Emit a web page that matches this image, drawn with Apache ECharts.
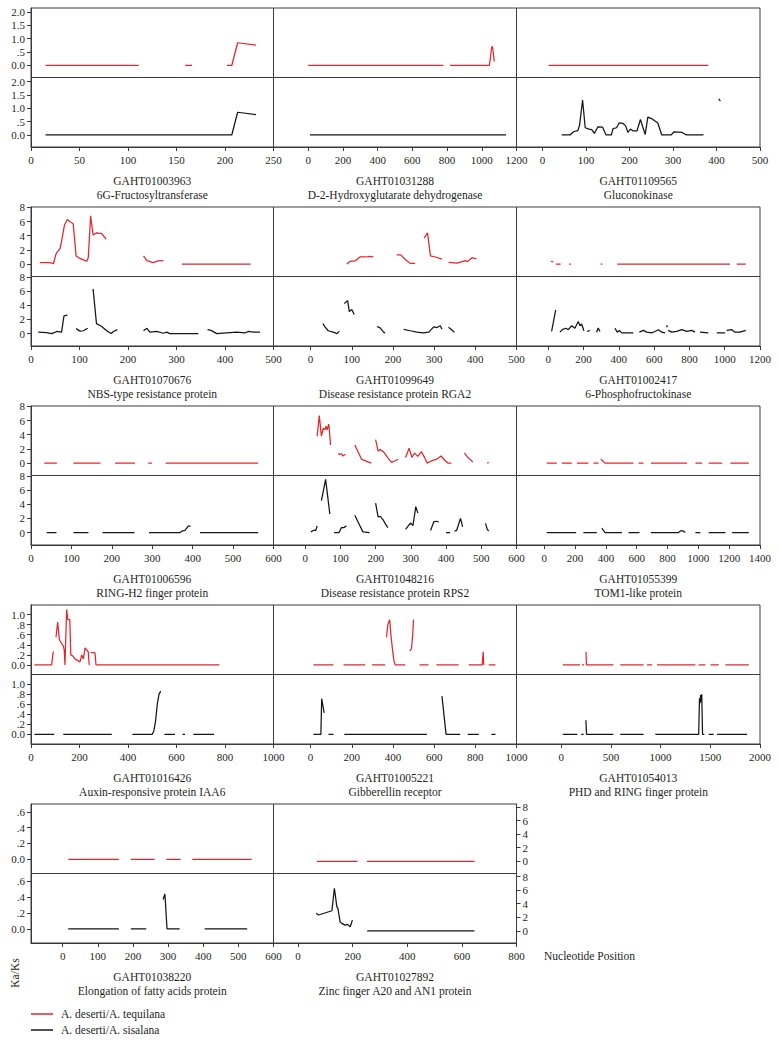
<!DOCTYPE html>
<html><head><meta charset="utf-8">
<script src="https://cdn.jsdelivr.net/npm/echarts@6/dist/echarts.min.js"></script>
<style>html,body{margin:0;padding:0;background:#fff}#c{width:779px;height:1045px}</style>
</head><body><div id="c"></div>
<script>
const N = null;
// ---------- titles ----------
const geneIds = ['GAHT01003963','GAHT01031288','GAHT01109565','GAHT01070676','GAHT01099649','GAHT01002417','GAHT01006596','GAHT01048216','GAHT01055399','GAHT01016426','GAHT01005221','GAHT01054013','GAHT01038220','GAHT01027892'];
const geneNames = ['6G-Fructosyltransferase','D-2-Hydroxyglutarate dehydrogenase','Gluconokinase','NBS-type resistance protein','Disease resistance protein RGA2','6-Phosphofructokinase','RING-H2 finger protein','Disease resistance protein RPS2','TOM1-like protein','Auxin-responsive protein IAA6','Gibberellin receptor','PHD and RING finger protein','Elongation of fatty acids protein','Zinc finger A20 and AN1 protein'];
const seriesNames = ['A. deserti/A. tequilana','A. deserti/A. sisalana'];

// ---------- tick labels ----------
const xTicks = [
  [0,50,100,150,200,250],[0,200,400,600,800,1000,1200],[0,100,200,300,400,500],
  [0,100,200,300,400,500],[0,100,200,300,400,500],[0,200,400,600,800,1000,1200],
  [0,100,200,300,400,500,600],[0,100,200,300,400,500,600],[0,200,400,600,800,1000,1200,1400],
  [0,200,400,600,800,1000],[0,200,400,600,800,1000],[0,500,1000,1500,2000],
  [0,100,200,300,400,500,600],[0,200,400,600,800]
];
const yTicksByRow = [[0,0.5,1,1.5,2],[0,2,4,6,8],[0,2,4,6,8],[0,0.2,0.4,0.6,0.8,1],[0,0.2,0.4,0.6]];
const yTicksRight = [0,2,4,6,8];

// ---------- series values: [nucleotide position, Ka/Ks], null = gap ----------
const fructTeq = [[15,0],[111,0],N,[159,0],[166,0],N,[202,0],[207,0],[213,0.85],[232,0.76]];
const fructSis = [[15,0],[207,0],[213,0.85],[232,0.76]];
const d2hgTeq = [[0,0],[778,0],N,[817,0],[1043,0],[1050,0.3],[1056,0.65],[1061,0.72],[1066,0.5],[1072,0.15]];
const d2hgSis = [[10,0],[1140,0]];
const glucoTeq = [[14,0],[381,0]];
const glucoSis = [[44,0],[63,0],[71,0.12],[81,0.16],[85,0.36],[92,1.31],[98,0.27],[107,0.22],[113,0.2],[119,0.06],[127,0.3],[138,0.29],[146,0],[158,0],[162,0.24],[170,0.27],[176,0.45],[185,0.43],[191,0.34],[196,0.1],[202,0.22],[208,0.15],[217,0.15],[225,0.58],[231,0.27],[236,0.02],[242,0.67],[252,0.6],[265,0.45],[274,0],[296,0],[302,0.12],[320,0.1],[331,0],[370,0],N,[405,1.35],[409,1.27]];
const nbsTeq = [[18,0.2],[39,0.2],[46,0.05],[52,1.5],[60,2.2],[63,3.2],[69,5.5],[75,6.3],[80,6.0],[87,5.7],[93,1.15],[101,0.8],[108,0.6],[115,0.4],[118,0.9],[123,6.8],[128,4.1],[135,4.4],[146,4.3],[155,3.5],N,[232,1.15],[239,0.5],[252,0.2],[262,0.45],[273,0.5],N,[311,0],[453,0]];
const nbsSis = [[15,0.2],[32,0.15],[43,0],[53,0.3],[63,0.2],[68,2.5],[75,2.6],N,[93,0.7],[101,0.35],[108,0.4],[117,0.75],N,[128,6.3],[135,1.4],[146,1.0],[156,0.4],[165,0],[170,0.3],[178,0.55],N,[232,0.4],[239,0.75],[245,0.2],[259,0.3],[273,0.05],[280,0.2],[286,0],[345,0],N,[364,0.55],[371,0.45],[383,0],[403,0.1],[424,0.2],[441,0.1],[448,0.3],[458,0.2],[472,0.2]];
const rga2Teq = [[88,0],[96,0.4],[108,0.45],[120,1.0],[133,1.0],[145,1.1],[153,1.0],N,[209,1.3],[219,1.3],[230,0.65],[242,0.1],[254,0.1],N,[276,3.7],[284,4.4],[291,1.15],[303,1.0],[319,0.7],N,[335,0.25],[356,0.15],[368,0.35],[376,0.5],[381,0.35],[392,0.9],[403,0.75]];
const rga2Sis = [[30,1.4],[35,0.95],[43,0.4],[55,0.2],[64,0],[70,0.35],N,[82,4.25],[90,4.65],[94,3.1],[100,3.4],[106,2.7],N,[161,1.0],[169,0.8],[177,0.2],[181,0.1],N,[226,0.6],[242,0.4],[258,0.2],[274,0.1],[287,0.2],[299,0.95],[307,0.85],[315,1.1],[319,0.6],N,[335,0.9],[341,0.6],[349,0.2]];
const pfkTeq = [[14,0.4],[28,0.3],N,[44,0],[70,0],N,[118,0],[128,0],N,[297,0],[307,0],N,[391,0],[1030,0],N,[1068,0],[1119,0]];
const pfkSis = [[19,0.3],[42,3.3],N,[66,0.2],[82,0.6],[100,0.75],[113,0.55],[133,1.1],[151,0.75],[170,1.7],[180,1.1],[189,1.35],[202,0.4],N,[221,0.3],[236,0.45],N,[274,0.2],[283,0.8],[293,0.3],N,[378,0.75],[391,0.2],[403,0.45],[416,0.1],[482,0.1],N,[516,0.2],[539,0.45],[558,0.2],[586,0.1],[605,0.3],[624,0.55],[643,0.2],[662,0.1],N,[671,1.2],[675,0.9],N,[680,0.45],[700,0.2],[728,0.3],[756,0.55],[785,0.3],[813,0.45],[832,0.2],N,[860,0.2],[907,0.1],N,[955,0.1],[1002,0.1],N,[1011,0.45],[1040,0.55],[1058,0.2],[1087,0.2],[1119,0.45]];
const ringTeq = [[33,0],[64,0],N,[105,0],[172,0],N,[208,0],[257,0],N,[290,0],[299,0],N,[333,0],[562,0]];
const ringSis = [[39,0],[63,0],N,[105,0],[142,0],N,[177,0],[256,0],N,[292,0],[369,0],[375,0.25],[381,0.3],[389,0.9],[395,0.9],N,[418,0],[562,0]];
const rps2Teq = [[34,3.8],[40,6.7],[46,3.8],[51,4.9],[56,4.7],[59,5.2],[62,4.7],[67,5.5],[72,2.55],N,[93,1.25],[103,1.3],[107,1.0],[114,1.25],N,[141,2.55],[150,1.6],[160,0.55],[174,0.25],[188,0],N,[200,3.3],[207,1.7],[213,1.9],[222,1.6],[236,0.65],[245,0.1],[254,0.3],[264,0.55],N,[285,0.8],[295,2.1],[303,0.8],[311,1.4],[320,0.95],[330,1.6],[339,0.8],[346,0],[358,0.3],[373,0.55],[386,1.0],[396,0.4],[405,0],[415,0],N,[452,1.4],[462,0.8],[476,0.15],N,[517,0],[521,0.1]];
const rps2Sis = [[16,0.1],[23,0.3],[30,0.3],[34,0.95],N,[46,4.5],[58,7.5],[70,2.6],N,[82,0],[96,0],[103,0.7],[110,0.7],[117,0.95],N,[141,2.45],[150,1.5],[164,0.1],[183,0],N,[200,4.15],[207,2.2],[213,2.3],[222,1.75],[228,1.2],[235,0.7],N,[285,0.45],[292,0.9],[299,1.35],[306,1.0],[314,3.65],[320,2.75],N,[356,0.3],[365,1.5],[372,1.6],[379,1.5],N,[400,0],[411,0],N,[424,0.2],[430,0.3],[441,2.0],[447,0.8],N,[512,1.3],[517,0.45],[521,0.2]];
const tomTeq = [[16,0],[81,0],N,[114,0],[179,0],N,[211,0],[287,0],N,[319,0],[352,0],N,[367,0.55],[380,0.3],[395,0],[579,0],N,[612,0],[644,0],N,[692,0],[926,0],N,[981,0],[1024,0],N,[1067,0],[1154,0],N,[1208,0],[1327,0]];
const tomSis = [[16,0],[207,0],N,[254,0],[341,0],N,[374,0.65],[384,0.3],[395,0],[504,0],N,[547,0],[618,0],N,[692,0],[872,0],[883,0.25],[900,0.25],[915,0],N,[981,0],[1013,0],N,[1067,0],[1176,0],N,[1219,0],[1327,0]];
const iaaTeq = [[14,0],[85,0],[92,0.27],N,[103,0.55],[110,0.85],[117,0.5],[127,0.42],[133,0.38],[137,0.3],[140,0],[147,1.1],[152,0.9],[160,0.9],[164,0.2],[172,0.18],[181,0.12],[195,0.08],[202,0.06],[209,0.2],[216,0.12],[223,0.34],[230,0.3],[236,0.26],[240,0],N,[246,0.25],[264,0.24],[268,0],[777,0]];
const iaaSis = [[14,0],[96,0],N,[133,0],[333,0],N,[418,0],[500,0],[507,0.08],[514,0.28],[521,0.61],[528,0.8],[535,0.86],N,[550,0],[594,0],N,[625,0],[635,0],N,[669,0],[755,0]];
const gibTeq = [[14,0],[111,0],N,[160,0],[265,0],N,[298,0],[362,0],N,[369,0.55],[375,0.8],[384,0.9],[390,0.6],[398,0.3],[405,0.08],[411,0],[460,0],N,[481,0.28],[490,0.32],[496,0.6],[500,0.9],N,[529,0],[573,0],N,[611,0],[719,0],N,[768,0],[833,0],[838,0.26],[841,0],N,[865,0],[898,0]];
const gibSis = [[14,0],[50,0],[54,0.71],[66,0.43],N,[87,0],[111,0],N,[164,0],[565,0],N,[638,0.76],[658,0],[727,0],N,[763,0],[817,0],N,[878,0],[898,0]];
const phdTeq = [[16,0],[190,0],N,[210,0],[231,0],N,[249,0.26],[254,0],[526,0],N,[594,0],[829,0],N,[863,0],[913,0],N,[964,0],[1350,0],N,[1383,0],[1451,0],N,[1501,0],[1585,0],N,[1652,0],[1887,0]];
const phdSis = [[16,0],[162,0],N,[200,0],[225,0],N,[248,0.28],[255,0],[524,0],N,[594,0],[829,0],N,[947,0],[1383,0],[1391,0.72],[1397,0.62],[1402,0.78],[1408,0.65],[1414,0.8],[1422,0],[1440,0],N,[1484,0],[1534,0],N,[1568,0],[1870,0]];
const elongTeq = [[16,0],[160,0],N,[194,0],[262,0],N,[295,0],[336,0],N,[369,0],[538,0]];
const elongSis = [[16,0],[160,0],N,[194,0],[238,0],N,[286,0.37],[291,0.44],[297,0],[333,0],N,[404,0],[525,0]];
const zincTeq = [[69,0],[218,0],N,[252,0],[647,0]];
const zincSis = [[66,2.58],[75,2.33],[124,2.96],[133,6.28],[142,3.56],[146,3.3],[154,1.33],[160,1.1],[172,0.84],[181,0.95],[191,0.6],[199,1.58],N,[253,0],[646,0]];

const teqData = [fructTeq,d2hgTeq,glucoTeq,nbsTeq,rga2Teq,pfkTeq,ringTeq,rps2Teq,tomTeq,iaaTeq,gibTeq,phdTeq,elongTeq,zincTeq];
const sisData = [fructSis,d2hgSis,glucoSis,nbsSis,rga2Sis,pfkSis,ringSis,rps2Sis,tomSis,iaaSis,gibSis,phdSis,elongSis,zincSis];

// ---------- scale / layout config ----------
const xRange = [[0,250],[-200,1200],[-60,500],[0,500],[-90,500],[-180,1200],[0,600],[-90,600],[-180,1400],[0,1000],[-180,1000],[-450,2000],[-90,600],[-90,800]];
const yRangeByRow = [[-0.45,2.15],[-1.75,8.05],[-1.75,8.05],[-0.19,1.19],[-0.18,0.70]];
const yRangeRight = [-1.8,8.45];
const intRows = [false,true,true,false,false];

const FONT = 'Liberation Serif, DejaVu Serif, serif';
const RED = '#e3262b', BLK = '#151515', INK = '#231f20', AX = '#3a3a3a';
const EDGES = [31, 273.5, 516.5, 760];
const ROW_TOP = [8, 207, 406, 605, 804];
const HALF = 69.5;

function toLine(arr){ return arr.map(p => p ? p : ['-','-']); }
function fmtDec(v){ let s = v.toFixed(1); if (v > 0 && v < 1) s = s.slice(1); return s; }

function makeY(gi, yr, ticks, pos, show, isInt){
  return {type:'value', gridIndex:gi, min:yr[0], max:yr[1], position:pos, show:show,
    axisLine:{show:true, onZero:false, lineStyle:{color:AX,width:1}},
    axisTick:{show:true, inside:false, length:4, lineStyle:{color:AX}, customValues:ticks},
    axisLabel:{show:true, customValues:ticks, showMinLabel:true, showMaxLabel:true, hideOverlap:false,
      margin:6, fontSize:11, fontFamily:FONT, color:INK,
      formatter: v => isInt ? String(Math.round(v)) : fmtDec(v)},
    splitLine:{show:false}};
}

const grid=[], xAxis=[], yAxis=[], series=[], graphic=[];
teqData.forEach((teq,i)=>{
  const row = Math.floor(i/3), col = i%3;
  const left = EDGES[col], width = EDGES[col+1]-EDGES[col];
  const rightAxis = (row===4 && col===1);
  for (let h=0; h<2; h++){
    const gi = grid.length;
    grid.push({left:left, top:ROW_TOP[row]+h*HALF, width:width, height:HALF, show:true,
      borderColor:AX, borderWidth:1, backgroundColor:'transparent'});
    xAxis.push({type:'value', gridIndex:gi, min:xRange[i][0], max:xRange[i][1], show:h===1, position:'bottom',
      axisLine:{show:true, onZero:false, lineStyle:{color:AX,width:1}},
      axisTick:{show:true, inside:false, length:4, lineStyle:{color:AX}, customValues:xTicks[i]},
      axisLabel:{show:true, customValues:xTicks[i], showMinLabel:true, showMaxLabel:true, hideOverlap:false,
        margin:7, fontSize:11, fontFamily:FONT, color:INK, formatter: v => String(Math.round(v))},
      splitLine:{show:false}});
    const yr = rightAxis ? yRangeRight : yRangeByRow[row];
    const yt = rightAxis ? yTicksRight : yTicksByRow[row];
    const isInt = rightAxis || intRows[row];
    const show = col===0 || rightAxis;
    const yi = yAxis.length;
    if (show && yt.length > 5) {
      // densely spaced labels: split over two coincident axes so none get dropped
      yAxis.push(makeY(gi, yr, yt.filter((v,k)=>k%2===0), 'left', true, isInt));
      yAxis.push(makeY(gi, yr, yt.filter((v,k)=>k%2===1), 'left', true, isInt));
    } else {
      yAxis.push(makeY(gi, yr, yt, rightAxis?'right':'left', show, isInt));
    }
    const color = h ? BLK : RED;
    series.push({type:'line', name:seriesNames[h], xAxisIndex:gi, yAxisIndex:yi,
      data: toLine(h ? sisData[i] : teq), showSymbol:false, symbol:'none', connectNulls:false,
      itemStyle:{color:color}, lineStyle:{color:color, width:1.25}, silent:true, animation:false});
  }
  const cx = (EDGES[col]+EDGES[col+1])/2, bottom = ROW_TOP[row]+2*HALF;
  graphic.push({type:'text', x:cx, y:bottom+34, style:{text:geneIds[i], align:'center', verticalAlign:'middle', textAlign:'center', textVerticalAlign:'middle', font:'11.5px '+FONT, fill:INK}});
  graphic.push({type:'text', x:cx, y:bottom+48, style:{text:geneNames[i], align:'center', verticalAlign:'middle', textAlign:'center', textVerticalAlign:'middle', font:'11.5px '+FONT, fill:INK}});
});
graphic.push({type:'text', x:544, y:956, style:{text:'Nucleotide Position', align:'left', verticalAlign:'middle', textAlign:'left', textVerticalAlign:'middle', font:'11.5px '+FONT, fill:INK}});
graphic.push({type:'text', x:15, y:973, rotation:Math.PI/2, style:{text:'Ka/Ks', align:'center', verticalAlign:'middle', textAlign:'center', textVerticalAlign:'middle', font:'11.5px '+FONT, fill:INK}});

const chart = echarts.init(document.getElementById('c'), null, {renderer:'svg', width:779, height:1045});
chart.setOption({
  animation:false,
  backgroundColor:'#fff',
  textStyle:{fontFamily:FONT},
  grid:grid, xAxis:xAxis, yAxis:yAxis, series:series, graphic:graphic,
  legend:{left:31, top:1008, orient:'vertical', padding:0, itemWidth:22, itemHeight:1.5, itemGap:4, icon:'rect',
    data:seriesNames, selectedMode:false,
    textStyle:{fontFamily:FONT, fontSize:11.5, lineHeight:12, color:INK, padding:[0,0,0,3]}}
});
</script></body></html>
